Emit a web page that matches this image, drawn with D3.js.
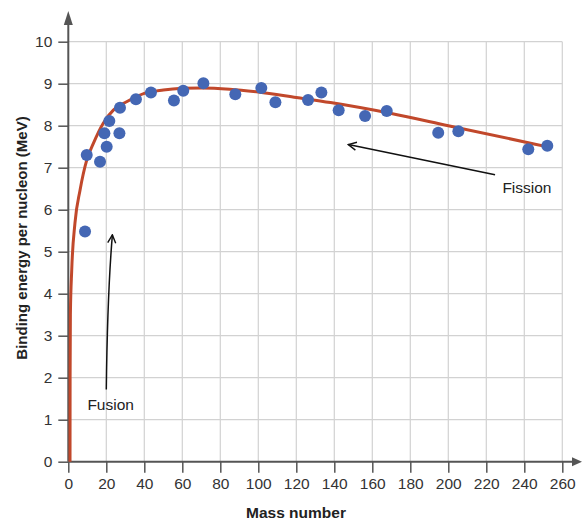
<!DOCTYPE html>
<html>
<head>
<meta charset="utf-8">
<script src="https://cdn.jsdelivr.net/npm/d3@7"></script>
<style>
  body { margin: 0; background: #fff; }
  svg { font-family: "Liberation Sans", Arial, sans-serif; }
</style>
</head>
<body>
<svg id="chart" width="582" height="521"></svg>
<script>
// measured nuclides: mass number, binding energy per nucleon (MeV)
const massNumbers = [8.8, 9.7, 16.7, 19, 20.2, 21.6, 26.9, 27.2, 35.6, 43.5, 55.6, 60.5, 71.1,
    87.9, 101.6, 109, 126.2, 133.2, 142.3, 156.2, 167.6, 194.7, 205.3, 242.1, 252.1];
const bindingEnergies = [5.48, 7.3, 7.14, 7.82, 7.5, 8.11, 7.82, 8.43, 8.63, 8.79, 8.6, 8.83, 9.01,
    8.75, 8.9, 8.56, 8.61, 8.79, 8.37, 8.23, 8.35, 7.83, 7.87, 7.44, 7.52];

// fitted curve
const curveMass = [0.9, 0.95, 1.1, 1.8, 3.5, 6.2, 9.7, 13.2, 18.4, 23.7, 30.7, 40, 50, 60, 70,
    85, 100, 120, 138, 170, 200, 253];
const curveEnergy = [0, 2, 3.5, 4.56, 5.68, 6.47, 7.18, 7.58, 8.06, 8.37, 8.57, 8.77, 8.85, 8.89, 8.9,
    8.87, 8.8, 8.67, 8.55, 8.29, 8.0, 7.49];

const xTicks = d3.range(0, 261, 20);
const yTicks = d3.range(0, 11, 1);

const svg = d3.select('#chart');
const x = d3.scaleLinear().domain([0, 260]).range([68.3, 562.3]);
const y = d3.scaleLinear().domain([0, 10]).range([461.7, 41.7]);
const fontSize = 15.5;

const defs = svg.append('defs');
defs.append('marker')
    .attr('id', 'openArrow')
    .attr('viewBox', '0 0 10 10')
    .attr('refX', 9).attr('refY', 5)
    .attr('markerWidth', 10).attr('markerHeight', 10)
    .attr('markerUnits', 'userSpaceOnUse')
    .attr('orient', 'auto')
    .append('path')
    .attr('d', 'M1,1 L9,5 L1,9')
    .attr('fill', 'none')
    .attr('stroke', '#111')
    .attr('stroke-width', 1.4);

// grid
const grid = svg.append('g');
grid.selectAll('.vgrid')
    .data(xTicks.slice(1))
    .join('line')
    .attr('x1', d => x(d)).attr('x2', d => x(d))
    .attr('y1', y(10)).attr('y2', y(0))
    .attr('stroke', '#d2d2d2').attr('stroke-width', 1.2);
grid.selectAll('.hgrid')
    .data(yTicks.slice(1))
    .join('line')
    .attr('x1', x(0)).attr('x2', x(260))
    .attr('y1', d => y(d)).attr('y2', d => y(d))
    .attr('stroke', '#d2d2d2').attr('stroke-width', 1.2);

// axes
const styleTicks = g => g
    .call(g => g.select('.domain').remove())
    .call(g => g.selectAll('.tick line').attr('stroke', '#555').attr('stroke-width', 1.5))
    .call(g => g.selectAll('text').attr('font-size', fontSize).attr('fill', '#333')
        .attr('font-family', '"Liberation Sans", Arial, sans-serif'));
const xAxis = g => g.attr('transform', `translate(0,${y(0)})`)
    .call(d3.axisBottom(x).tickValues(xTicks).tickSize(11).tickPadding(5))
    .call(styleTicks);
const yAxis = g => g.attr('transform', `translate(${x(0)},0)`)
    .call(d3.axisLeft(y).tickValues(yTicks).tickSize(10).tickPadding(6))
    .call(styleTicks);
svg.append('g').call(xAxis);
svg.append('g').call(yAxis);

// axis lines with arrow heads
svg.append('line')
    .attr('x1', x(0)).attr('x2', 574)
    .attr('y1', y(0)).attr('y2', y(0))
    .attr('stroke', '#555').attr('stroke-width', 2);
svg.append('path')
    .attr('d', `M582,${y(0)} L572,${y(0) - 4.5} L572,${y(0) + 4.5}Z`)
    .attr('fill', '#555');
svg.append('line')
    .attr('x1', x(0)).attr('x2', x(0))
    .attr('y1', y(0)).attr('y2', 22)
    .attr('stroke', '#555').attr('stroke-width', 2);
svg.append('path')
    .attr('d', `M${x(0)},11 L${x(0) - 4.5},25 L${x(0) + 4.5},25Z`)
    .attr('fill', '#555');

// axis titles
svg.append('text')
    .attr('x', 296).attr('y', 518)
    .attr('text-anchor', 'middle')
    .attr('font-size', fontSize).attr('font-weight', 'bold').attr('fill', '#222')
    .text('Mass number');
svg.append('text')
    .attr('transform', 'translate(27,238) rotate(-90)')
    .attr('text-anchor', 'middle')
    .attr('font-size', fontSize - 0.5).attr('font-weight', 'bold').attr('fill', '#222')
    .text('Binding energy per nucleon (MeV)');

// fitted curve
const curvePts = curveMass.map((m, i) => [m, curveEnergy[i]]);
svg.append('path')
    .datum(curvePts)
    .attr('fill', 'none')
    .attr('stroke', '#c1482b')
    .attr('stroke-width', 3)
    .attr('d', d3.line().x(d => x(d[0])).y(d => y(d[1])).curve(d3.curveMonotoneX));

// data points
svg.append('g')
    .selectAll('circle')
    .data(massNumbers.map((m, i) => [m, bindingEnergies[i]]))
    .join('circle')
    .attr('cx', d => x(d[0]))
    .attr('cy', d => y(d[1]))
    .attr('r', 6)
    .attr('fill', '#4467b4');

// annotations
const annot = svg.append('g');
annot.append('path')
    .attr('d', `M${x(20)},${y(1.72)} Q${x(20.6)},${y(4)} ${x(23.2)},${y(5.4)}`)
    .attr('fill', 'none').attr('stroke', '#111').attr('stroke-width', 1.5)
    .attr('marker-end', 'url(#openArrow)');
annot.append('text')
    .attr('x', x(22.3)).attr('y', y(1.37) + 5.5)
    .attr('text-anchor', 'middle')
    .attr('font-size', fontSize).attr('fill', '#222')
    .text('Fusion');
annot.append('path')
    .attr('d', `M${x(224.6)},${y(6.83)} L${x(147.4)},${y(7.55)}`)
    .attr('fill', 'none').attr('stroke', '#111').attr('stroke-width', 1.5)
    .attr('marker-end', 'url(#openArrow)');
annot.append('text')
    .attr('x', x(241.4)).attr('y', y(6.54) + 5.5)
    .attr('text-anchor', 'middle')
    .attr('font-size', fontSize).attr('fill', '#222')
    .text('Fission');
</script>
</body>
</html>
